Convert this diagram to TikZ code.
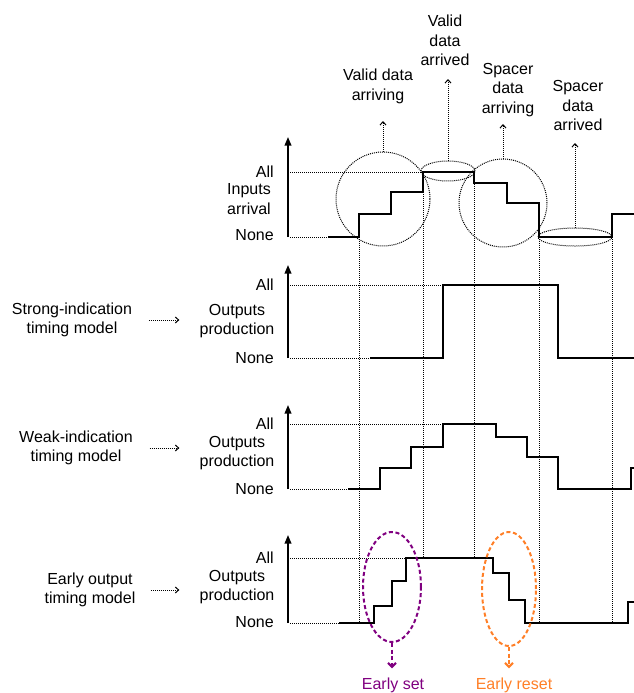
\documentclass[tikz,border=0pt]{standalone}
\usepackage{fontspec}
\setmainfont{Liberation Sans}
\usepackage{tikz}
\usetikzlibrary{arrows.meta,positioning,shapes.geometric}
\definecolor{tmPurple}{HTML}{800080}
\definecolor{tmOrange}{HTML}{FF7F27}
\tikzset{
  lbl/.style={
    inner sep=0pt,
    align=center,
    font=\fontsize{12}{14.6}\selectfont
  },
  axlbl/.style={lbl, anchor=east},
  guide/.style={line width=0.75pt, dash pattern=on 0.75pt off 0.75pt},
  pointer/.style={guide, -{Straight Barb[length=2.5pt,width=4.5pt]}},
  axis/.style={line width=1.3pt, -{Triangle[length=6.5pt,width=5pt]}},
  wave/.style={line width=1.7pt, line join=miter},
  zone/.style={ellipse, draw, guide, inner sep=0pt},
  early/.style={ellipse, draw, line width=1.5pt, dash pattern=on 3pt off 2pt, inner sep=0pt},
  earlyarrow/.style={line width=1.5pt, dash pattern=on 3pt off 2pt, -{Straight Barb[length=3pt,width=6pt]}}
}

\begin{document}
\begin{tikzpicture}[x=0.75pt, y=-0.75pt]
  \useasboundingbox (0,0) rectangle (633,693);

  \draw[guide] (359,237) -- (359,623);
  \draw[guide] (423,172) -- (423,558);
  \draw[guide] (474,172) -- (474,558);
  \draw[guide] (539,237) -- (539,623);
  \draw[guide] (612,237) -- (612,623);

  \draw[axis] (288,237) -- (288,137);
  \node[axlbl] (all1) at (274,172) {All};
  \node[lbl] (in1) at (249,199) {Inputs\\arrival};
  \node[axlbl] (none1) at (274,235) {None};
  \draw[guide] (290,172) -- (423,172);
  \draw[guide] (290,237) -- (328,237);
  \draw[wave] (328,237) -- (359,237) -- (359,214) -- (391,214) -- (391,192) -- (423,192) -- (423,172) -- (474,172) -- (474,183) -- (507,183) -- (507,203) -- (539,203) -- (539,237) -- (612,237) -- (612,214) -- (640,214);

  \node[zone, minimum width=70.5pt, minimum height=70.5pt] (varr) at (383,199) {};
  \node[zone, minimum width=40.5pt, minimum height=15pt] (vdone) at (448,171) {};
  \node[zone, minimum width=66pt, minimum height=66pt] (sarr) at (503,203) {};
  \node[zone, minimum width=55.5pt, minimum height=13.5pt] (sdone) at (575,237) {};
  \node[lbl, anchor=south] (varrlbl) at (378,104) {Valid data\\arriving};
  \node[lbl, anchor=south] (vdonelbl) at (445,66) {Valid\\data\\arrived};
  \node[lbl, anchor=south] (sarrlbl) at (508,117) {Spacer\\data\\arriving};
  \node[lbl, anchor=south] (sdonelbl) at (578,131) {Spacer\\data\\arrived};
  \draw[pointer, shorten >=12.75pt] (varr.north) -- (varr.north |- varrlbl.south);
  \draw[pointer, shorten >=9.75pt] (vdone.north) -- (vdone.north |- vdonelbl.south);
  \draw[pointer, shorten >=5.25pt] (sarr.north) -- (sarr.north |- sarrlbl.south);
  \draw[pointer, shorten >=9pt] (sdone.north) -- (sdone.north |- sdonelbl.south);

  \draw[axis] (288,358) -- (288,265);
  \node[axlbl] (all2) at (274,285) {All};
  \node[lbl] (out2) at (237,321) {Outputs\\production};
  \node[axlbl] (none2) at (274,358) {None};
  \node[lbl] (strong) at (72,320) {Strong-indication\\timing model};
  \draw[pointer, shorten <=12.5pt, shorten >=15pt] (strong.east) -- (strong.east -| out2.west);
  \draw[guide] (290,285) -- (443,285);
  \draw[guide] (290,358) -- (370,358);
  \draw[wave] (370,358) -- (443,358) -- (443,285) -- (558,285) -- (558,358) -- (640,358);

  \draw[axis] (288,489) -- (288,405);
  \node[axlbl] (all3) at (274,424) {All};
  \node[lbl] (out3) at (237,453) {Outputs\\production};
  \node[axlbl] (none3) at (274,489) {None};
  \node[lbl] (weak) at (76,448) {Weak-indication\\timing model};
  \draw[pointer, shorten <=12.5pt, shorten >=15pt] (weak.east) -- (weak.east -| out3.west);
  \draw[guide] (290,424) -- (443,424);
  \draw[guide] (290,489) -- (348,489);
  \draw[wave] (348,489) -- (380,489) -- (380,468) -- (411,468) -- (411,447) -- (443,447) -- (443,424) -- (496,424) -- (496,437) -- (527,437) -- (527,457) -- (558,457) -- (558,489) -- (631,489) -- (631,468) -- (640,468);

  \draw[axis] (288,623) -- (288,535);
  \node[axlbl] (all4) at (274,558) {All};
  \node[lbl] (out4) at (237,587) {Outputs\\production};
  \node[axlbl] (none4) at (274,622) {None};
  \node[lbl] (earlyout) at (90,590) {Early output\\timing model};
  \draw[pointer, shorten <=11.5pt, shorten >=15pt] (earlyout.east) -- (earlyout.east -| out4.west);
  \draw[guide] (290,558) -- (406,558);
  \draw[guide] (290,623) -- (339,623);
  \draw[wave] (339,623) -- (374,623) -- (374,606) -- (392,606) -- (392,581) -- (406,581) -- (406,558) -- (493,558) -- (493,573) -- (509,573) -- (509,600) -- (525,600) -- (525,623) -- (628,623) -- (628,602) -- (640,602);

  \node[early, draw=tmPurple, minimum width=43.5pt, minimum height=82.5pt] (eset) at (392,587) {};
  \node[early, draw=tmOrange, minimum width=40.5pt, minimum height=85.5pt] (ereset) at (509,589) {};
  \node[lbl, text=tmPurple] (esetlbl) at (393,685) {Early set};
  \node[lbl, text=tmOrange] (eresetlbl) at (514,685) {Early reset};
  \draw[earlyarrow, tmPurple, shorten >=6.75pt] (eset.south) -- (eset.south |- esetlbl.north);
  \draw[earlyarrow, tmOrange, shorten >=6.75pt] (ereset.south) -- (ereset.south |- eresetlbl.north);
\end{tikzpicture}
\end{document}
